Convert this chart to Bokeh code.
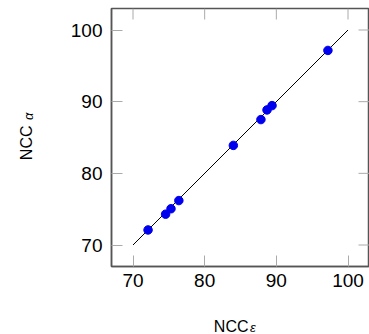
import math
from bokeh.plotting import figure
from bokeh.models import Range1d, FixedTicker, Label
from bokeh.embed import file_html
from bokeh.resources import INLINE

# data
ncc_eps = [72.1, 74.55, 75.3, 76.4, 84.0, 87.85, 88.7, 89.4, 97.2]
ncc_alpha = [72.1, 74.3, 75.06, 76.2, 83.9, 87.5, 88.85, 89.45, 97.15]
diag = [70, 100]
ticks = [70, 80, 90, 100]
x_label_main, x_label_sub = "NCC", "ε"
y_label_main, y_label_sub = "NCC", "α"

FONT = "Liberation Sans"
FRAME_COLOR = "#555555"
TICK_COLOR = "#aaaaaa"
X0, X1 = 67, 103

p = figure(width=369, height=334, output_backend="svg", toolbar_location=None,
           x_range=Range1d(X0, X1), y_range=Range1d(X0, X1),
           min_border_left=111, min_border_right=0, min_border_top=8, min_border_bottom=68)
p.grid.visible = False
p.background_fill_color = "white"
p.border_fill_color = "white"
p.outline_line_color = FRAME_COLOR
p.outline_line_width = 1.5

for ax in (p.xaxis[0], p.yaxis[0]):
    ax.ticker = FixedTicker(ticks=ticks)
    ax.axis_line_color = FRAME_COLOR
    ax.axis_line_width = 1.5
    ax.major_tick_in = 11
    ax.major_tick_out = 0
    ax.major_tick_line_color = TICK_COLOR
    ax.major_tick_line_width = 1
    ax.minor_tick_line_color = None
    ax.axis_label = None
    ax.major_label_text_font = FONT
    ax.major_label_text_font_size = "19px"
    ax.major_label_text_color = "black"
p.xaxis[0].major_label_standoff = 7
p.yaxis[0].major_label_standoff = 9

# inward ticks on the top and right sides
p.ray(x=ticks, y=[X1] * len(ticks), length=11, length_units="screen",
      angle=-math.pi / 2, line_color=TICK_COLOR, line_width=1)
p.ray(x=[X1] * len(ticks), y=ticks, length=11, length_units="screen",
      angle=math.pi, line_color=TICK_COLOR, line_width=1)

p.line(diag, diag, line_color="black", line_width=1)
p.scatter(ncc_eps, ncc_alpha, size=8.5, fill_color="#0000ee", line_color="#0000ee")

# axis labels with subscripts, placed in side panels (canvas units: from top-left)
def add_label(side, x, y, text, size, angle=0.0, align="left", italic=False):
    p.add_layout(Label(x=x, y=y, x_units="canvas", y_units="canvas", text=text,
                       text_align=align, text_baseline="alphabetic", angle=angle,
                       text_font=FONT, text_font_size=size, text_color="black",
                       text_font_style="italic" if italic else "normal"), side)

add_label("below", 248, 326, x_label_main, "16px", align="right")
add_label("below", 249.5, 327, x_label_sub, "13px", italic=True)
add_label("left", 26, 125, y_label_main, "16px", angle=math.pi / 2, align="right")
add_label("left", 28, 119.5, y_label_sub, "13px", angle=math.pi / 2, italic=True)

open("out.html", "w").write(file_html(p, INLINE))
